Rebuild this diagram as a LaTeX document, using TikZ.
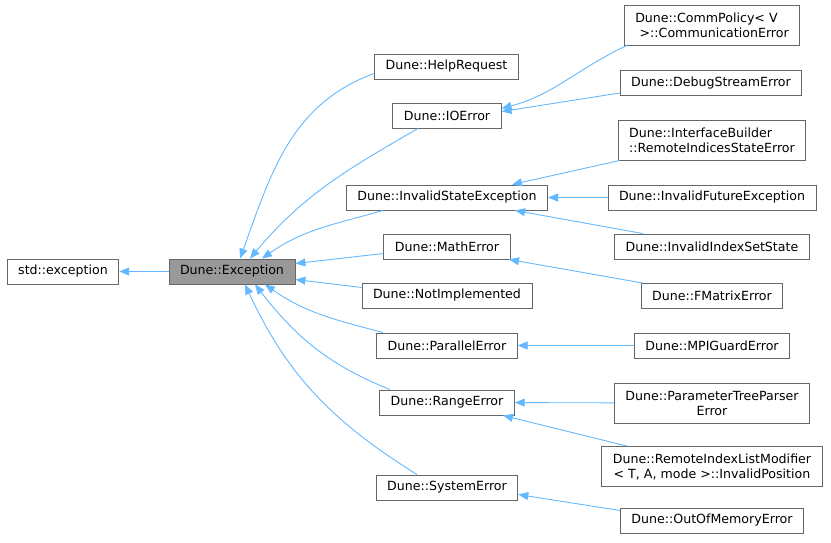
\documentclass[tikz,border=0pt]{standalone}
\usepackage{fontspec}
\setmainfont{DejaVu Sans}
\usetikzlibrary{arrows.meta}
\definecolor{EdgeBlue}{HTML}{63B8FF}
\definecolor{BoxGray}{HTML}{666666}
\definecolor{BaseGray}{HTML}{999999}

\begin{document}
\begin{tikzpicture}[x=1pt, y=1pt, >={Triangle[length=10pt, width=8pt]},
    cls/.style={draw=BoxGray, fill=white, line width=0.9pt, font=\fontsize{12.6}{15}\selectfont,
        inner xsep=11pt, minimum height=25pt, align=center},
    base/.style={cls, fill=BaseGray},
    edge/.style={->, EdgeBlue, line width=0.9pt}]
        \useasboundingbox (0,0) rectangle (831,-542);

        % Root classes
        \node[cls] (std) at (63,-271.5) {std::exception};
        \node[base] (exc) at (232,-271.5) {Dune::Exception};

        % Direct subclasses of Dune::Exception
        \node[cls] (help) at (446.5,-66.5) {Dune::HelpRequest};
        \node[cls] (io) at (447,-115.5) {Dune::IOError};
        \node[cls] (ise) at (447,-197.5) {Dune::InvalidStateException};
        \node[cls] (math) at (447,-246.5) {Dune::MathError};
        \node[cls] (notimpl) at (447,-295.5) {Dune::NotImplemented};
        \node[cls] (par) at (447,-345.5) {Dune::ParallelError};
        \node[cls] (range) at (447,-402.5) {Dune::RangeError};
        \node[cls] (sys) at (447,-487.5) {Dune::SystemError};

        % Leaf classes
        \node[cls, minimum height=40pt, align=left] (comm) at (712,-25) {Dune::CommPolicy< V\\\hspace{0.35em}>::CommunicationError};
        \node[cls] (debug) at (711,-83) {Dune::DebugStreamError};
        \node[cls, minimum height=40pt, align=left] (ib) at (712,-140) {Dune::InterfaceBuilder\\::RemoteIndicesStateError};
        \node[cls] (ifut) at (712,-197.5) {Dune::InvalidFutureException};
        \node[cls] (iiss) at (712,-246.5) {Dune::InvalidIndexSetState};
        \node[cls] (fmat) at (712,-296) {Dune::FMatrixError};
        \node[cls] (mpi) at (712,-345.5) {Dune::MPIGuardError};
        \node[cls, minimum height=40pt] (ptp) at (712,-403) {Dune::ParameterTreeParser\\Error};
        \node[cls, minimum height=40pt] (rilm) at (712,-466.5) {Dune::RemoteIndexListModifier\\< T, A, mode >::InvalidPosition};
        \node[cls] (oom) at (712,-520.5) {Dune::OutOfMemoryError};

        % Inheritance to the base
        \draw[edge] (exc) -- (std);
        \draw[edge] ([yshift=-7pt]help.west) to[out=200, in=70] ([xshift=8pt]exc.north);
        \draw[edge] ([xshift=-29pt]io.south) to[out=210, in=50] ([xshift=18pt]exc.north);
        \draw[edge] ([xshift=-64pt]ise.south) to[out=196, in=35] ([xshift=30pt]exc.north);
        \draw[edge] ([yshift=-7pt]math.west) -- ([yshift=8pt]exc.east);
        \draw[edge] ([yshift=8pt]notimpl.west) -- ([yshift=-8pt]exc.east);
        \draw[edge] ([xshift=-64pt]par.north) to[out=165, in=-35] ([xshift=33pt]exc.south);
        \draw[edge] ([xshift=-57pt]range.north) to[out=158, in=-52] ([xshift=23pt]exc.south);
        \draw[edge] ([xshift=-30pt]sys.north) to[out=148, in=-65] ([xshift=13pt]exc.south);

        % Second level
        \draw[edge] ([xshift=-85pt]comm.south) to[out=205, in=15] ([yshift=7pt]io.east);
        \draw[edge] ([yshift=-10pt]debug.west) -- ([yshift=4pt]io.east);
        \draw[edge] ([xshift=2pt]ib.south west) -- ([xshift=65pt]ise.north);
        \draw[edge] (ifut) -- (ise);
        \draw[edge] ([xshift=-69pt]iiss.north) -- ([xshift=68pt]ise.south);
        \draw[edge] ([xshift=-69pt]fmat.north) -- ([xshift=62pt]math.south);
        \draw[edge] (mpi) -- (par);
        \draw[edge] (ptp) -- (range);
        \draw[edge] ([xshift=-85pt]rilm.north) -- ([xshift=56pt]range.south);
        \draw[edge] ([yshift=10pt]oom.west) -- ([yshift=-7pt]sys.east);
    \end{tikzpicture}
\end{document}
